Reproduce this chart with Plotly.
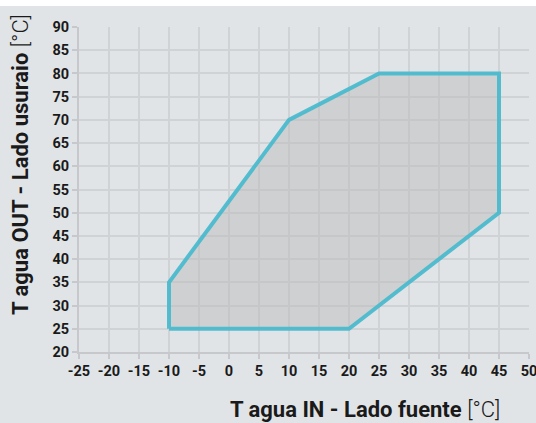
import plotly.graph_objects as go

# Operating envelope: source-side water inlet vs user-side water outlet (°C)
t_in = [-10, 20, 45, 45, 25, 10, -10, -10]
t_out = [25, 25, 50, 80, 80, 70, 35, 25]

x_ticks = list(range(-25, 55, 5))
y_ticks = list(range(20, 95, 5))

FONT = "Roboto, sans-serif"
BG = "#e1e4e7"
GRID = "#d0d3d6"
AXIS = "#c6c8cb"
INK = "#1a1a1a"

fig = go.Figure()
fig.add_trace(go.Scatter(
    x=t_in, y=t_out, mode="lines", fill="toself",
    fillcolor="rgba(188,188,188,0.5)",
    line=dict(color="rgba(70,186,205,0.92)", width=4),
    hoverinfo="skip", showlegend=False,
))

fig.update_layout(
    width=536, height=423,
    margin=dict(l=79, r=7, t=27, b=71),
    paper_bgcolor=BG, plot_bgcolor=BG,
    font=dict(family=FONT, color=INK),
    showlegend=False,
    shapes=[dict(type="rect", xref="paper", yref="paper",
                 x0=-0.3, x1=1.1, y0=1.0646, y1=1.2,
                 fillcolor="white", line=dict(width=0), layer="below")],
    annotations=[
        dict(text="<b>T agua IN - Lado fuente</b> <span style='font-weight:300'>[°C]</span>",
             xref="paper", yref="paper",
             x=(365 - 79) / 450, y=-(409 - 352) / 325, xanchor="center", yanchor="middle",
             showarrow=False, font=dict(size=22, family=FONT, color=INK)),
        dict(text="<b>T agua OUT - Lado usuraio</b> <span style='font-weight:300'>[°C]</span>",
             xref="paper", yref="paper",
             x=-(79 - 20) / 450, y=(352 - 165) / 325, xanchor="center", yanchor="middle",
             textangle=-90, showarrow=False,
             font=dict(size=22, family=FONT, color=INK)),
    ],
)

tick_font = dict(size=14.5, family=FONT, color=INK)
common = dict(
    showgrid=True, gridcolor=GRID, gridwidth=1.5, zeroline=False,
    showline=True, linecolor=AXIS, linewidth=2,
    ticks="outside", ticklen=5, tickwidth=2, tickcolor=AXIS,
    tickfont=tick_font, ticklabeloverflow="allow", automargin=False,
    fixedrange=True,
)
fig.update_xaxes(range=[-25, 50], tickvals=x_ticks,
                 ticktext=[f"<b>{v}</b>" for v in x_ticks], **common)
fig.update_yaxes(range=[20, 90], tickvals=y_ticks,
                 ticktext=[f"<b>{v}</b>" for v in y_ticks], **common)

fig.write_html("out.html")
